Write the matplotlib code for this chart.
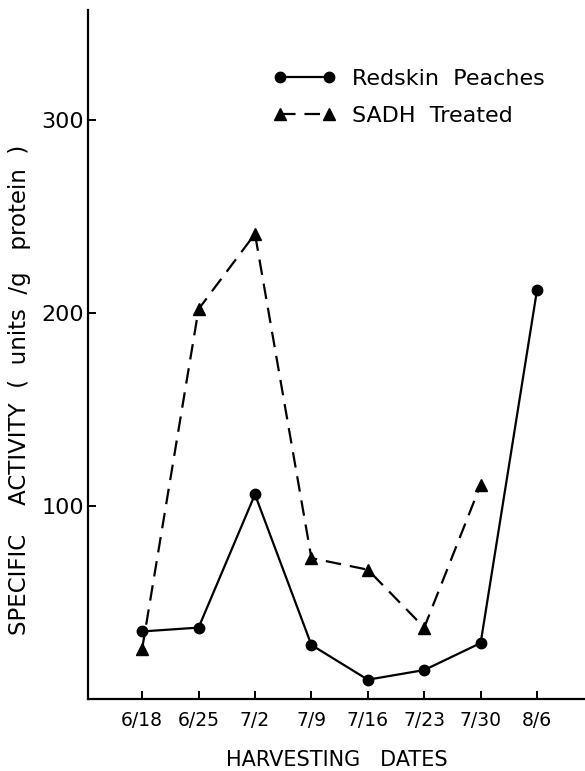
import numpy as np
import matplotlib
matplotlib.use("Agg")
import matplotlib.pyplot as plt

# harvest dates and specific activity readings (units / g protein)
DATES = ["6/18", "6/25", "7/2", "7/9", "7/16", "7/23", "7/30", "8/6"]
REDSKIN = [35, 37, 106, 28, 10, 15, 29, 212]
SADH_DATES = ["6/18", "6/25", "7/2", "7/9", "7/16", "7/23", "7/30"]
SADH = [26, 202, 241, 73, 67, 37, 111]
Y_TICKS = [100, 200, 300]

plt.rcParams["font.family"] = ["DejaVu Sans"]

fig = plt.figure(figsize=(5.85, 7.71), dpi=100)
ax = fig.add_axes([88 / 585, 1 - 699 / 771, 1 - 88 / 585, (699 - 10) / 771])

x_red = np.arange(len(DATES))
x_sadh = np.array([DATES.index(d) for d in SADH_DATES])

ax.plot(x_red, REDSKIN, color="black", lw=1.6, marker="o", ms=7.5,
        label="Redskin  Peaches")
ax.plot(x_sadh, SADH, color="black", lw=1.6, marker="^", ms=9,
        dashes=(7, 4), label="SADH  Treated")

ax.set_xlim(-0.96, 7.85)
ax.set_ylim(0, 357)
ax.set_xticks(x_red)
ax.set_xticklabels(DATES)
ax.set_yticks(Y_TICKS)

for side in ("top", "right"):
    ax.spines[side].set_visible(False)
for side in ("left", "bottom"):
    ax.spines[side].set_linewidth(1.6)

ax.tick_params(axis="both", direction="in", length=6, width=1.4)
ax.tick_params(axis="y", labelsize=16, pad=3)
ax.tick_params(axis="x", labelsize=13.5, pad=9)

ax.set_xlabel("HARVESTING   DATES", fontsize=15, labelpad=14)
fig.text(20 / 585, 1 - 390 / 771,
         "SPECIFIC    ACTIVITY  (  units  /g   protein  )",
         rotation=90, fontsize=16.5, ha="center", va="center")

ax.legend(loc="upper left", bbox_to_anchor=(262 / 585, 1 - 58 / 771),
          bbox_transform=fig.transFigure, frameon=False, numpoints=2,
          fontsize=16, handlelength=2.8, handletextpad=0.75,
          labelspacing=0.75, borderpad=0)

fig.savefig("out.png", dpi=100)
